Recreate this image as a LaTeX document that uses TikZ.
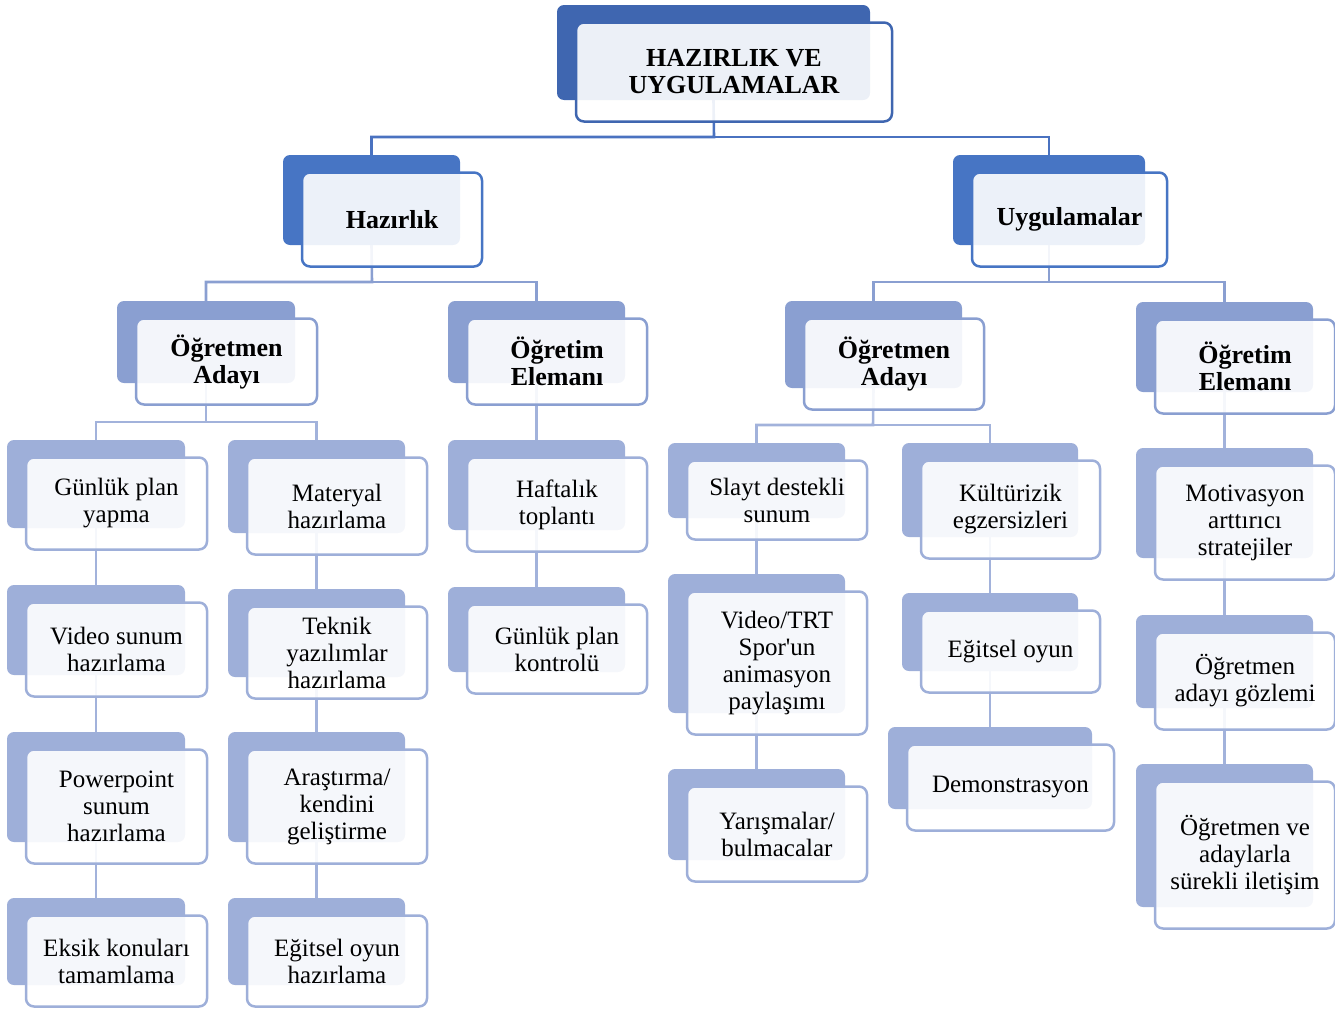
\documentclass[tikz,border=0pt]{standalone}
\usepackage{fontspec}
\setmainfont{Liberation Serif}
\newfontfamily\nomapfont{Liberation Serif}
\usetikzlibrary{backgrounds}
\definecolor{bkA}{HTML}{3F66B0}
\definecolor{bkB}{HTML}{4775C4}
\definecolor{bkC}{HTML}{8A9FD1}
\definecolor{bkD}{HTML}{9EAFD9}
\definecolor{lnA}{HTML}{4A72C0}
\definecolor{lnB}{HTML}{8A9FD1}
\definecolor{lnC}{HTML}{A2B2DB}
\tikzset{
  backbox/.style={draw=none, fill=#1, rounded corners=7pt, inner sep=0pt},
  frontbox/.style={draw=#1, line width=2.5pt, fill=white, fill opacity=0.9, text opacity=1,
    rounded corners=8pt, inner sep=0pt, align=center, text=black},
  regtxt/.style={font=\fontsize{25}{27}\selectfont},
  boldtxt/.style={font=\bfseries\fontsize{26}{27}\selectfont},
  conn/.style={draw=#1, line width=2.6pt},
}
% \dbox{name}{backcolour}{x1}{y1}{x2}{y2}{text style}{text}
\newcommand\dbox[8]{%
  \node[backbox=#2, minimum width={#5-#3}, minimum height={#6-#4}] (#1b) at ({(#3+#5)/2},{(#4+#6)/2}) {};
  \node[frontbox=#2, #7, minimum width={#5-#3+3}, minimum height={#6-#4+4}] (#1) at ({(#3+#5)/2+20.5},{(#4+#6)/2+19.5}) {#8};
}
\begin{document}
\begin{tikzpicture}[x=1pt,y=-1pt]
\useasboundingbox (0,0) rectangle (1335,1009);
% level 1
\dbox{top}{bkA}{557}{5}{870}{100}{boldtxt}{HAZIRLIK VE\\UYGULAMALAR}
% level 2
\dbox{haz}{bkB}{283}{155}{460}{245}{boldtxt}{Hazırlık}
\dbox{uyg}{bkB}{953}{155}{1145}{245}{boldtxt}{Uygulamalar}
% level 3
\dbox{oa}{bkC}{117}{301}{295}{383}{boldtxt}{Öğretmen\\Adayı}
\dbox{oe}{bkC}{448}{301}{625}{383}{boldtxt}{Öğretim\\Elemanı}
\dbox{ub}{bkC}{785}{301}{962}{388}{boldtxt}{Öğretmen\\Adayı}
\dbox{ue}{bkC}{1136}{302}{1313}{392}{boldtxt}{Öğretim\\Elemanı}
% column A
\dbox{a1}{bkD}{7}{440}{185}{528}{regtxt}{Günlük plan\\yapma}
\dbox{a2}{bkD}{7}{585}{185}{675}{regtxt}{Video sunum\\hazırlama}
\dbox{a3}{bkD}{7}{732}{185}{842}{regtxt}{Powerpoint\\sunum\\hazırlama}
\dbox{a4}{bkD}{7}{898}{185}{985}{regtxt}{Eksik konuları\\tamamlama}
% column B
\dbox{b1}{bkD}{228}{440}{405}{533}{regtxt}{Materyal\\hazırlama}
\dbox{b2}{bkD}{228}{589}{405}{677}{regtxt}{Teknik\\yazılımlar\\hazırlama}
\dbox{b3}{bkD}{228}{732}{405}{842}{regtxt}{Araştırma/\\kendini\\geliştirme}
\dbox{b4}{bkD}{228}{898}{405}{985}{regtxt}{Eğitsel oyun\\hazırlama}
% column C
\dbox{c1}{bkD}{448}{440}{625}{530}{regtxt}{Haftalık\\toplantı}
\dbox{c2}{bkD}{448}{587}{625}{672}{regtxt}{Günlük plan\\kontrolü}
% column D
\dbox{d1}{bkD}{668}{443}{845}{518}{regtxt}{Slayt destekli\\sunum}
\dbox{d2}{bkD}{668}{574}{845}{713}{regtxt}{Video/TRT\\Spor{\nomapfont'}un\\animasyon\\paylaşımı}
\dbox{d3}{bkD}{668}{769}{845}{860}{regtxt}{Yarışmalar/\\bulmacalar}
% column E
\dbox{e1}{bkD}{902}{443}{1078}{537}{regtxt}{Kültürizik\\egzersizleri}
\dbox{e2}{bkD}{902}{593}{1078}{671}{regtxt}{Eğitsel oyun}
\dbox{e3}{bkD}{888}{727}{1092}{809}{regtxt}{Demonstrasyon}
% column F
\dbox{f1}{bkD}{1136}{448}{1313}{558}{regtxt}{Motivasyon\\arttırıcı\\stratejiler}
\dbox{f2}{bkD}{1136}{615}{1313}{708}{regtxt}{Öğretmen\\adayı gözlemi}
\dbox{f3}{bkD}{1136}{764}{1313}{907}{regtxt}{Öğretmen ve\\adaylarla\\sürekli iletişim}
% connectors
\begin{scope}[on background layer]
\coordinate (j1) at (714,137);
\coordinate (j2) at (372,282);
\coordinate (j3) at (1049,282);
\coordinate (j4) at (206,422);
\coordinate (j5) at (873,425);
\draw[conn=lnA] (topb.south) -- (j1) -| (hazb.north);
\draw[conn=lnA] (j1) -| (uygb.north);
\draw[conn=lnB] (hazb.south) -- (j2) -| (oab.north);
\draw[conn=lnB] (j2) -| (oeb.north);
\draw[conn=lnB] (uygb.south) -- (j3) -| (ubb.north);
\draw[conn=lnB] (j3) -| (ueb.north);
\draw[conn=lnC] (oab.south) -- (j4) -| (a1b.north);
\draw[conn=lnC] (j4) -| (b1b.north);
\draw[conn=lnC] (ubb.south) -- (j5) -| (d1b.north);
\draw[conn=lnC] (j5) -| (e1b.north);
\draw[conn=lnC] (oeb.south) -- (c1b.north);
\draw[conn=lnC] (ueb.south) -- (f1b.north);
\draw[conn=lnC] (a1b.south) -- (a2b.north);
\draw[conn=lnC] (a2b.south) -- (a3b.north);
\draw[conn=lnC] (a3b.south) -- (a4b.north);
\draw[conn=lnC] (b1b.south) -- (b2b.north);
\draw[conn=lnC] (b2b.south) -- (b3b.north);
\draw[conn=lnC] (b3b.south) -- (b4b.north);
\draw[conn=lnC] (c1b.south) -- (c2b.north);
\draw[conn=lnC] (d1b.south) -- (d2b.north);
\draw[conn=lnC] (d2b.south) -- (d3b.north);
\draw[conn=lnC] (e1b.south) -- (e2b.north);
\draw[conn=lnC] (e2b.south) -- (e3b.north);
\draw[conn=lnC] (f1b.south) -- (f2b.north);
\draw[conn=lnC] (f2b.south) -- (f3b.north);
\end{scope}
\end{tikzpicture}
\end{document}
